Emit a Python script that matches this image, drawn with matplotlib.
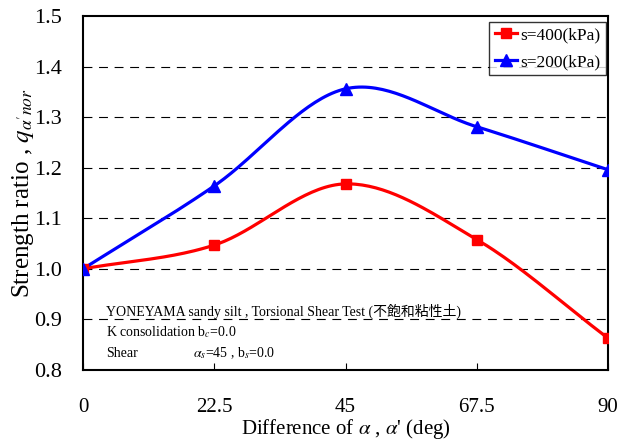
import numpy as np
import matplotlib
matplotlib.use("Agg")
import matplotlib.pyplot as plt

plt.rcParams['font.family'] = ['Liberation Serif', 'Noto Sans CJK JP']
plt.rcParams['mathtext.fontset'] = 'stix'

# data
angles = [0, 22.5, 45, 67.5, 90]
ratio_400 = [1.0, 1.047, 1.168, 1.058, 0.863]
ratio_200 = [1.0, 1.164, 1.356, 1.281, 1.196]
xticks = [0, 22.5, 45, 67.5, 90]
xtick_labels = ["0", "22.5", "45", "67.5", "90"]
yticks = [0.8, 0.9, 1.0, 1.1, 1.2, 1.3, 1.4, 1.5]


def smooth(x, y, n=40, t=0.5):
    # catmull-rom style smoothing like Excel's smoothed line
    x = np.asarray(x, float)
    y = np.asarray(y, float)
    px = np.concatenate([[2 * x[0] - x[1]], x, [2 * x[-1] - x[-2]]])
    py = np.concatenate([[2 * y[0] - y[1]], y, [2 * y[-1] - y[-2]]])
    xs, ys = [], []
    for i in range(1, len(px) - 2):
        s = np.linspace(0, 1, n)
        m1x = t * (px[i + 1] - px[i - 1]); m1y = t * (py[i + 1] - py[i - 1])
        m2x = t * (px[i + 2] - px[i]); m2y = t * (py[i + 2] - py[i])
        h00 = 2 * s**3 - 3 * s**2 + 1
        h10 = s**3 - 2 * s**2 + s
        h01 = -2 * s**3 + 3 * s**2
        h11 = s**3 - s**2
        xs.append(h00 * px[i] + h10 * m1x + h01 * px[i + 1] + h11 * m2x)
        ys.append(h00 * py[i] + h10 * m1y + h01 * py[i + 1] + h11 * m2y)
    return np.concatenate(xs), np.concatenate(ys)


fig = plt.figure(figsize=(6.29, 4.41), dpi=100)
ax = fig.add_axes([83 / 629, 1 - 370 / 441, 525 / 629, 354 / 441])

for yv in yticks[1:-1]:
    ax.axhline(yv, color="black", lw=0.8, ls=(0, (8, 6)), zorder=1)

sx, sy = smooth(angles, ratio_400)
ax.plot(sx, sy, color="red", lw=2.3, zorder=3)
ax.plot(angles, ratio_400, "s", color="red", ms=7, zorder=4)
sx, sy = smooth(angles, ratio_200)
ax.plot(sx, sy, color="blue", lw=2.3, zorder=3)
ax.plot(angles, ratio_200, "^", color="blue", ms=8, zorder=4)

ax.plot([], [], "s-", color="red", ms=7, lw=2.3, label="s=400(kPa)")
ax.plot([], [], "^-", color="blue", ms=8, lw=2.3, label="s=200(kPa)")
leg = ax.legend(loc="upper right", bbox_to_anchor=(0.996, 0.983),
                fontsize=12.5, frameon=True, fancybox=False,
                edgecolor="black", borderpad=0.3, handlelength=1.3,
                handletextpad=0.2, labelspacing=0.6, borderaxespad=0)
leg.get_frame().set_linewidth(1.0)

ax.set_xlim(0, 90)
ax.set_ylim(0.8, 1.5)
ax.set_xticks(xticks)
ax.set_xticklabels(xtick_labels)
ax.set_yticks(yticks)
ax.set_yticklabels([f"{v:.1f}" for v in yticks])
ax.tick_params(axis="x", direction="in", length=5, pad=20, labelsize=15)
ax.tick_params(axis="y", direction="in", length=0, pad=15, labelsize=16)
for sp in ax.spines.values():
    sp.set_linewidth(1.5)

ax.set_xlabel(r"Difference of $\alpha$ , $\alpha$' (deg)", fontsize=15, labelpad=0)
ax.set_ylabel(r"Strength ratio , $q_{\alpha' nor}$", fontsize=18, labelpad=-1.5)

ax.text(3.9, 0.908, "YONEYAMA sandy silt , Torsional Shear Test (不飽和粘性土)",
        fontsize=10)
ax.text(3.9, 0.867, r"K consolidation b$_c$=0.0", fontsize=10)
ax.text(3.9, 0.826, "Shear", fontsize=10)
ax.text(18.8, 0.826, r"$\alpha_s$=45 , b$_s$=0.0", fontsize=10)

fig.savefig("out.png", dpi=100)
